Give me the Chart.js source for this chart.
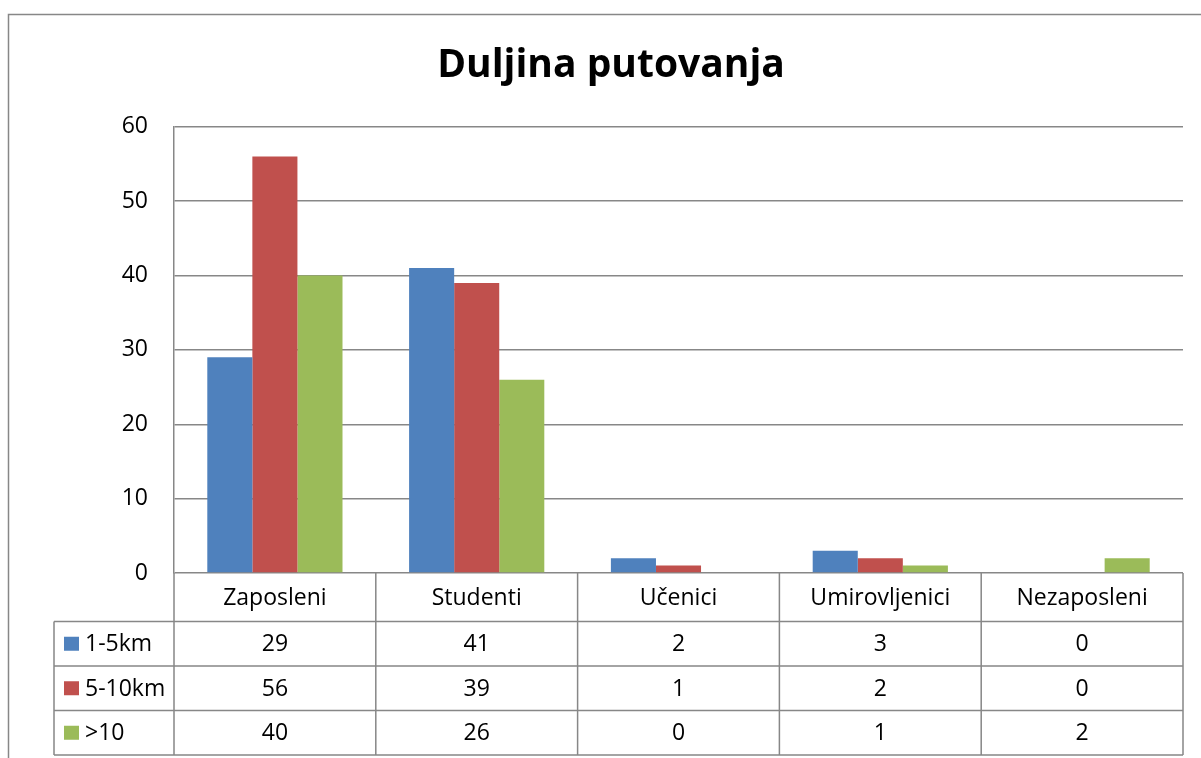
<!DOCTYPE html>
<html>
<head>
<meta charset="utf-8">
<script src="https://cdn.jsdelivr.net/npm/chart.js@4"></script>
<style>
  html, body { margin: 0; padding: 0; background: #fff; }
  #wrap { width: 1201px; height: 758px; position: relative; }
</style>
</head>
<body>
<div id="wrap"><canvas id="myChart"></canvas></div>
<script>
const categories = ['Zaposleni', 'Studenti', 'Učenici', 'Umirovljenici', 'Nezaposleni'];
const series1 = [29, 41, 2, 3, 0];   // 1-5km
const series2 = [56, 39, 1, 2, 0];   // 5-10km
const series3 = [40, 26, 0, 1, 2];   // >10
const seriesNames = ['1-5km', '5-10km', '>10'];
const yTicks = [0, 10, 20, 30, 40, 50, 60];

const FONT = '"Open Sans", "DejaVu Sans", sans-serif';
const GRAY = '#878787';

// draws the outer frame and the data table under the bars
const tablePlugin = {
  id: 'dataTable',
  afterDraw(chart) {
    const ctx = chart.ctx;
    const x = chart.scales.x;
    const area = chart.chartArea;
    const rows = [series1, series2, series3];
    const colors = chart.data.datasets.map(d => d.backgroundColor);
    const step = (area.right - area.left) / categories.length;
    const headH = 48.5, rowH = 44.5;
    const top = area.bottom;
    const legLeft = 54;

    ctx.save();
    ctx.strokeStyle = GRAY;
    ctx.lineWidth = 1.5;

    // outer chart frame
    ctx.strokeRect(8.5, 14.5, 1300, 800);

    // horizontal lines
    ctx.beginPath();
    ctx.moveTo(legLeft, top + headH);
    ctx.lineTo(area.right, top + headH);
    for (let r = 1; r <= rows.length; r++) {
      const yy = top + headH + r * rowH;
      ctx.moveTo(legLeft, yy);
      ctx.lineTo(area.right, yy);
    }
    // vertical lines
    for (let c = 0; c <= categories.length; c++) {
      const xx = area.left + c * step;
      ctx.moveTo(xx, top);
      ctx.lineTo(xx, top + headH + rows.length * rowH);
    }
    ctx.moveTo(legLeft, top + headH);
    ctx.lineTo(legLeft, top + headH + rows.length * rowH);
    ctx.stroke();

    ctx.font = '23px ' + FONT;
    ctx.fillStyle = '#000';
    ctx.textAlign = 'center';
    ctx.textBaseline = 'middle';
    categories.forEach((cat, i) => {
      ctx.fillText(cat, x.getPixelForValue(i), top + headH / 2 + 1);
    });
    rows.forEach((vals, r) => {
      const cy = top + headH + r * rowH + rowH / 2 + 1;
      vals.forEach((v, i) => {
        ctx.fillText(String(v), x.getPixelForValue(i), cy);
      });
    });

    // legend keys inside the table
    ctx.textAlign = 'left';
    seriesNames.forEach((name, r) => {
      const cy = top + headH + r * rowH + rowH / 2;
      ctx.fillStyle = colors[r];
      ctx.fillRect(legLeft + 10, cy - 7, 15, 14);
      ctx.fillStyle = '#000';
      ctx.fillText(name, legLeft + 31, cy + 1);
    });
    ctx.restore();
  }
};

const data = {
  labels: categories,
  datasets: [
    { label: seriesNames[0], data: series1, backgroundColor: '#4F81BD' },
    { label: seriesNames[1], data: series2, backgroundColor: '#C0504D' },
    { label: seriesNames[2], data: series3, backgroundColor: '#9BBB59' }
  ]
};

const config = {
  type: 'bar',
  data: data,
  options: {
    responsive: true,
    maintainAspectRatio: false,
    animation: false,
    categoryPercentage: 0.67,
    barPercentage: 1,
    layout: { padding: { left: 39, right: 18, top: 0, bottom: 185 } },
    plugins: {
      legend: { display: false },
      tooltip: { enabled: false },
      title: {
        display: true,
        text: 'Duljina putovanja',
        color: '#000',
        font: { family: FONT, size: 39, weight: 'bold' },
        padding: { top: 42, bottom: 38 }
      }
    },
    scales: {
      x: { display: false },
      y: {
        min: 0,
        max: 60,
        afterBuildTicks: s => { s.ticks = yTicks.map(v => ({ value: v })); },
        afterFit: s => { s.width = 135; },
        grid: { color: GRAY, lineWidth: 1.5, drawTicks: false },
        border: { color: GRAY, width: 1.5 },
        ticks: { color: '#000', padding: 26, font: { family: FONT, size: 23 } }
      }
    }
  },
  plugins: [tablePlugin]
};

const myChart = new Chart(document.getElementById('myChart'), config);
</script>
</body>
</html>
